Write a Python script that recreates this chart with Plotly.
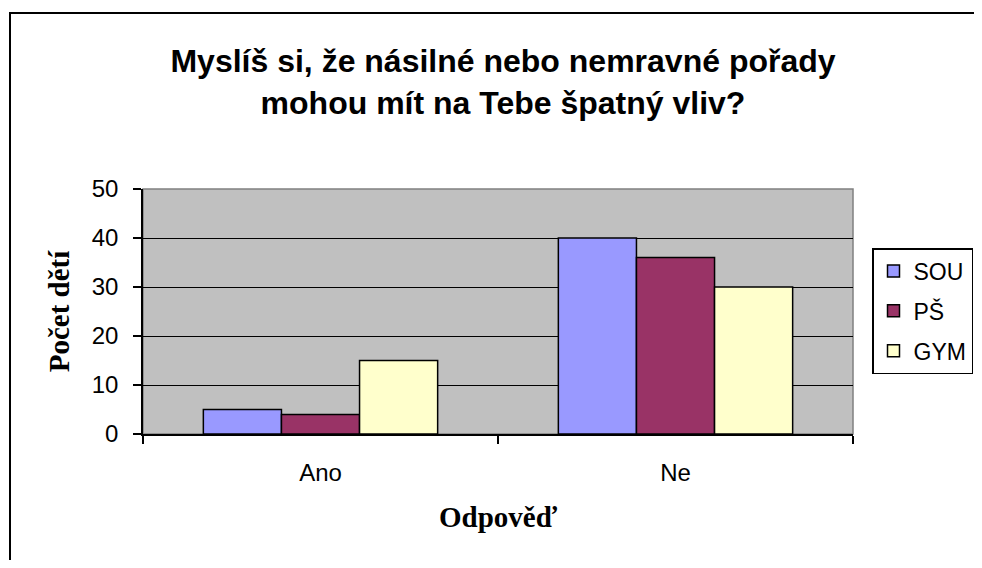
import plotly.graph_objects as go

categories = ["Ano", "Ne"]
series_names = ["SOU", "PŠ", "GYM"]
sou = [5, 40]
ps = [4, 36]
gym = [15, 30]
colors = ["#9999FF", "#993366", "#FFFFCC"]

title_text = "Myslíš si, že násilné nebo nemravné pořady<br>mohou mít na Tebe špatný vliv?"
x_title = "Odpověď"
y_title = "Počet dětí"
y_ticks = [0, 10, 20, 30, 40, 50]

# page body has an 8px margin, so the figure is sized/positioned to compensate
OFF = 8
W, H = 982 - OFF, 568 - 2 * OFF
L, R, T, B = 143 - OFF, 853 - OFF, 189 - OFF, 434 - OFF

fig = go.Figure()
for i, (name, vals) in enumerate(zip(series_names, [sou, ps, gym])):
    fig.add_trace(go.Bar(
        x=categories, y=vals, name=name, legendgroup=name,
        marker=dict(color=colors[i], line=dict(color="black", width=1.5)),
    ))

# outer frame (top and left visible in reference)
fx0 = (10 - OFF - L) / (R - L)
fy1 = (B - (13 - OFF)) / (B - T)
fig.add_shape(type="rect", xref="paper", yref="paper",
              x0=fx0, x1=2, y0=-2, y1=fy1,
              line=dict(color="black", width=2), layer="below")
# plot area border gray
fig.add_shape(type="rect", xref="paper", yref="paper",
              x0=0, x1=1, y0=0, y1=1,
              line=dict(color="#808080", width=1.5), layer="below")

fig.update_layout(
    width=W, height=H,
    margin=dict(l=L, r=W - R, t=T, b=H - B, pad=0, autoexpand=False),
    paper_bgcolor="white",
    plot_bgcolor="#C0C0C0",
    barmode="group",
    bargap=0.34,
    bargroupgap=0,
    title=dict(text=title_text, x=(503 - OFF) / W, xanchor="center",
               y=1 - (82 - OFF - 10) / H, yanchor="middle",
               font=dict(family="Liberation Sans, Arial", size=32, color="black", weight="bold")),
    font=dict(family="Liberation Sans, Arial", size=24, color="black"),
    legend=dict(x=(872 - OFF - L) / (R - L), y=(B - (248 - OFF)) / (B - T),
                xanchor="left", yanchor="top",
                bordercolor="black", borderwidth=1.5, bgcolor="white",
                font=dict(size=23), tracegroupgap=7,
                itemwidth=30),
    xaxis=dict(
        showline=True, linecolor="black", linewidth=1.5,
        ticks="outside", ticklen=8, tickcolor="black", tickwidth=1.5,
        tickson="boundaries",
        ticklabelstandoff=16,
        title=dict(text=x_title, standoff=22,
                   font=dict(family="Liberation Serif, Times New Roman", size=29, weight="bold")),
    ),
    yaxis=dict(
        range=[0, 50], tickvals=y_ticks, showline=True, linecolor="black", linewidth=1.5,
        ticks="outside", ticklen=8, tickcolor="black", tickwidth=1.5,
        showgrid=True, gridcolor="black", gridwidth=1.2,
        zeroline=False,
        ticklabelstandoff=10,
        title=dict(text=y_title, standoff=14,
                   font=dict(family="Liberation Serif, Times New Roman", size=29, weight="bold")),
    ),
)

fig.write_html("out.html")
